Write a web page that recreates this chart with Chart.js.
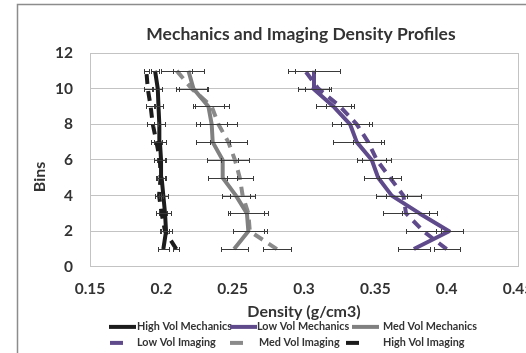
<!DOCTYPE html>
<html><head><meta charset="utf-8">
<script src="https://cdn.jsdelivr.net/npm/chart.js@4/dist/chart.umd.min.js"></script>
<style>
html,body{margin:0;padding:0;background:#fff;overflow:hidden;width:526px;height:353px}
#wrap{position:absolute;left:0;top:0;width:600px;height:353px}
</style></head>
<body><div id="wrap"><canvas id="c" width="600" height="353"></canvas></div>
<script>
// ---- data ----
const bins = [1, 2, 3, 4, 5, 6, 7, 8, 9, 10, 11];
const seriesNames = ['High Vol Mechanics', 'Low Vol Mechanics', 'Med Vol Mechanics',
                     'Low Vol Imaging', 'Med Vol Imaging', 'High Vol Imaging'];
const highVolMechanics = [0.2014, 0.2033, 0.2026, 0.2014, 0.2002, 0.1998, 0.1990, 0.1986, 0.1980, 0.1975, 0.1956];
const lowVolMechanics  = [0.3770, 0.4017, 0.3810, 0.3615, 0.3520, 0.3475, 0.3370, 0.3323, 0.3206, 0.3066, 0.3070];
const medVolMechanics  = [0.2510, 0.2610, 0.2600, 0.2523, 0.2430, 0.2430, 0.2360, 0.2353, 0.2330, 0.2225, 0.2190];
const lowVolImaging    = [0.4000, 0.3837, 0.3715, 0.3697, 0.3603, 0.3510, 0.3450, 0.3370, 0.3253, 0.3100, 0.3008];
const medVolImaging    = [0.2810, 0.2620, 0.2610, 0.2570, 0.2550, 0.2516, 0.2470, 0.2400, 0.2353, 0.2213, 0.2108];
const highVolImaging   = [0.2105, 0.2026, 0.2002, 0.1984, 0.1995, 0.1990, 0.1966, 0.1940, 0.1925, 0.1905, 0.1895];
const highVolMechanicsErr = [0.0040, 0.0040, 0.0040, 0.0030, 0.0030, 0.0030, 0.0040, 0.0040, 0.0030, 0.0030, 0.0030];
const lowVolMechanicsErr  = [0.0110, 0.0095, 0.0120, 0.0110, 0.0100, 0.0100, 0.0170, 0.0130, 0.0120, 0.0110, 0.0180];
const medVolMechanicsErr  = [0.0095, 0.0110, 0.0120, 0.0100, 0.0100, 0.0110, 0.0120, 0.0110, 0.0110, 0.0100, 0.0110];
const lowVolImagingErr    = [0.0090, 0.0120, 0.0160, 0.0120, 0.0080, 0.0100, 0.0110, 0.0110, 0.0100, 0.0090, 0.0070];
const medVolImagingErr    = [0.0100, 0.0120, 0.0140, 0.0090, 0.0090, 0.0100, 0.0130, 0.0130, 0.0120, 0.0110, 0.0110];
const highVolImagingErr   = [0.0020, 0.0030, 0.0040, 0.0030, 0.0030, 0.0040, 0.0040, 0.0040, 0.0030, 0.0030, 0.0020];
const xTickLabels = ['0.15', '0.2', '0.25', '0.3', '0.35', '0.4', '0.45'];
const yTickLabels = ['0', '2', '4', '6', '8', '10', '12'];
const yAxisTitle = 'Bins';

// ---- styling ----
const BLACK = '#1c1c1c', PURPLE = '#5f4a8b', GRAY = '#808080', GRAY2 = '#8a8a8a';
const TEXT = '#333333', GRID = '#c3c3c3';
const DASH = [10, 7];
const FONT = 'Lato, "Open Sans", sans-serif';

function pts(vals) { return bins.map((b, i) => ({ x: vals[i], y: b })); }
function ds(label, vals, errs, color, dashed) {
  return {
    label, data: pts(vals), errors: errs,
    borderColor: color, backgroundColor: color,
    borderWidth: 4, borderDash: dashed ? DASH : [],
    borderJoinStyle: 'round', borderCapStyle: 'butt',
    pointRadius: 0, pointHoverRadius: 0, showLine: true, tension: 0, fill: false
  };
}

Chart.defaults.font.family = FONT;
Chart.defaults.color = TEXT;

const framePlugin = {
  id: 'frame',
  beforeDraw(chart) {
    const ctx = chart.ctx;
    ctx.save();
    ctx.strokeStyle = '#8c8c8c';
    ctx.lineWidth = 1.5;
    ctx.strokeRect(17.5, 4.5, 567, 420);
    ctx.restore();
  }
};

const errorBarPlugin = {
  id: 'errorBars',
  afterDatasetsDraw(chart) {
    const ctx = chart.ctx, xs = chart.scales.x, ys = chart.scales.y;
    ctx.save();
    ctx.strokeStyle = '#3a3a3a';
    ctx.lineWidth = 1;
    chart.data.datasets.forEach(d => {
      if (!d.errors) return;
      d.data.forEach((p, i) => {
        const y = Math.round(ys.getPixelForValue(p.y)) + 0.5;
        const x0 = Math.round(xs.getPixelForValue(p.x - d.errors[i])) + 0.5;
        const x1 = Math.round(xs.getPixelForValue(p.x + d.errors[i])) + 0.5;
        ctx.beginPath();
        ctx.moveTo(x0, y); ctx.lineTo(x1, y);
        ctx.moveTo(x0, y - 2.5); ctx.lineTo(x0, y + 2.5);
        ctx.moveTo(x1, y - 2.5); ctx.lineTo(x1, y + 2.5);
        ctx.stroke();
      });
    });
    ctx.restore();
  }
};

const legendPlugin = {
  id: 'customLegend',
  afterDraw(chart) {
    const ctx = chart.ctx;
    const area = chart.chartArea;
    // y axis title (Excel places it slightly below the plot's middle)
    ctx.save();
    ctx.font = 'bold 16px ' + FONT;
    ctx.fillStyle = TEXT;
    ctx.textAlign = 'center';
    ctx.textBaseline = 'middle';
    ctx.translate(40, (area.top + area.bottom) / 2 + 17);
    ctx.rotate(-Math.PI / 2);
    ctx.fillText(yAxisTitle, 0, 0);
    ctx.restore();

    const base = area.bottom;
    const rows = [
      { y: base + 60, items: [0, 1, 2], sx: [109, 230, 352], sw: 27, tx: [137, 257, 383] },
      { y: base + 76, items: [3, 4, 5], sx: [110, 230, 346], sw: 13, tx: [137, 259, 383] }
    ];
    ctx.save();
    ctx.font = 'bold 10.8px ' + FONT;
    ctx.textBaseline = 'middle';
    ctx.textAlign = 'left';
    rows.forEach(r => {
      r.items.forEach((di, k) => {
        const d = chart.data.datasets[di];
        ctx.strokeStyle = d.borderColor;
        ctx.lineWidth = 4;
        ctx.setLineDash([]);
        ctx.lineCap = 'butt';
        ctx.beginPath();
        ctx.moveTo(r.sx[k], r.y);
        ctx.lineTo(r.sx[k] + r.sw, r.y);
        ctx.stroke();
        ctx.fillStyle = TEXT;
        ctx.fillText(d.label, r.tx[k], r.y);
      });
    });
    ctx.restore();
  }
};

new Chart(document.getElementById('c'), {
  type: 'scatter',
  data: {
    datasets: [
      ds(seriesNames[0], highVolMechanics, highVolMechanicsErr, BLACK, false),
      ds(seriesNames[1], lowVolMechanics, lowVolMechanicsErr, PURPLE, false),
      ds(seriesNames[2], medVolMechanics, medVolMechanicsErr, GRAY, false),
      ds(seriesNames[3], lowVolImaging, lowVolImagingErr, PURPLE, true),
      ds(seriesNames[4], medVolImaging, medVolImagingErr, GRAY2, true),
      ds(seriesNames[5], highVolImaging, highVolImagingErr, BLACK, true)
    ]
  },
  options: {
    responsive: false,
    animation: false,
    events: [],
    layout: { padding: { left: 18, right: 16, top: 4, bottom: 32 } },
    plugins: {
      legend: { display: false },
      tooltip: { enabled: false },
      title: {
        display: true,
        text: 'Mechanics and Imaging Density Profiles',
        font: { size: 17.5, weight: 'bold' },
        color: TEXT,
        padding: { top: 19.5, bottom: 8.5 }
      }
    },
    scales: {
      x: {
        type: 'linear', position: 'bottom',
        min: 0.15, max: 0.45,
        ticks: { stepSize: 0.05, padding: 12.5, font: { size: 15.5, weight: 'bold' }, color: TEXT,
                 callback: (v, i) => xTickLabels[i] },
        grid: { display: false, drawTicks: false },
        border: { display: true, color: GRID, width: 1 },
        title: { display: true, text: 'Density (g/cm3)', font: { size: 16, weight: 'bold' }, color: TEXT,
                 padding: { top: -8.7, bottom: 0 } }
      },
      y: {
        type: 'linear', position: 'left',
        min: 0, max: 12,
        ticks: { stepSize: 2, padding: 17, font: { size: 15.5, weight: 'bold' }, color: TEXT,
                 callback: (v, i) => yTickLabels[i] },
        grid: { display: true, color: GRID, lineWidth: 1, drawTicks: false },
        border: { display: true, color: GRID, width: 1 },
        title: { display: false },
        afterFit: s => { s.width = 72; }
      },
      yRight: {
        type: 'linear', position: 'right',
        ticks: { display: false },
        grid: { display: false, drawTicks: false },
        border: { display: true, color: GRID, width: 1 },
        afterFit: s => { s.width = 66; }
      }
    }
  },
  plugins: [framePlugin, errorBarPlugin, legendPlugin]
});
</script>
</body></html>
